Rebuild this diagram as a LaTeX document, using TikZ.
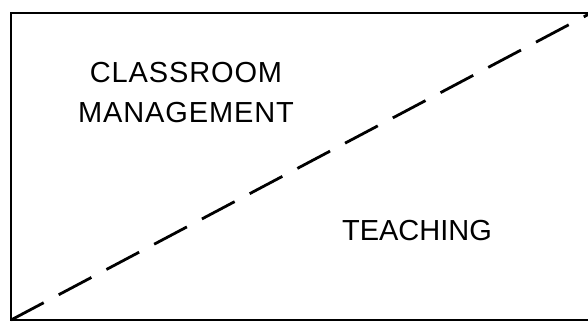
\documentclass[tikz,border=0pt]{standalone}
\usepackage{fontspec}
\setmainfont{Liberation Sans}
\usetikzlibrary{positioning}

\begin{document}
\begin{tikzpicture}[x=1pt, y=1pt, line width=2.8pt]
    \useasboundingbox (0,0) rectangle (588,322);
    \coordinate (bl) at (11,2);
    \coordinate (tl) at (11,309);
    \coordinate (tr) at (591,309);
    \coordinate (br) at (591,2);
    \draw (tr) -- (tl) -- (bl) -- (br);
    \draw[dash pattern=on 37pt off 17pt] (bl) -- (tr);
    \node[font=\fontsize{29}{40}\addfontfeature{LetterSpace=3}\selectfont, align=center, inner sep=0pt] (manage) at (186,229.5) {CLASSROOM\\MANAGEMENT};
    \node[font=\fontsize{29}{40}\selectfont, anchor=base, inner sep=0pt] (teach) at (417,82) {TEACHING};
\end{tikzpicture}
\end{document}
